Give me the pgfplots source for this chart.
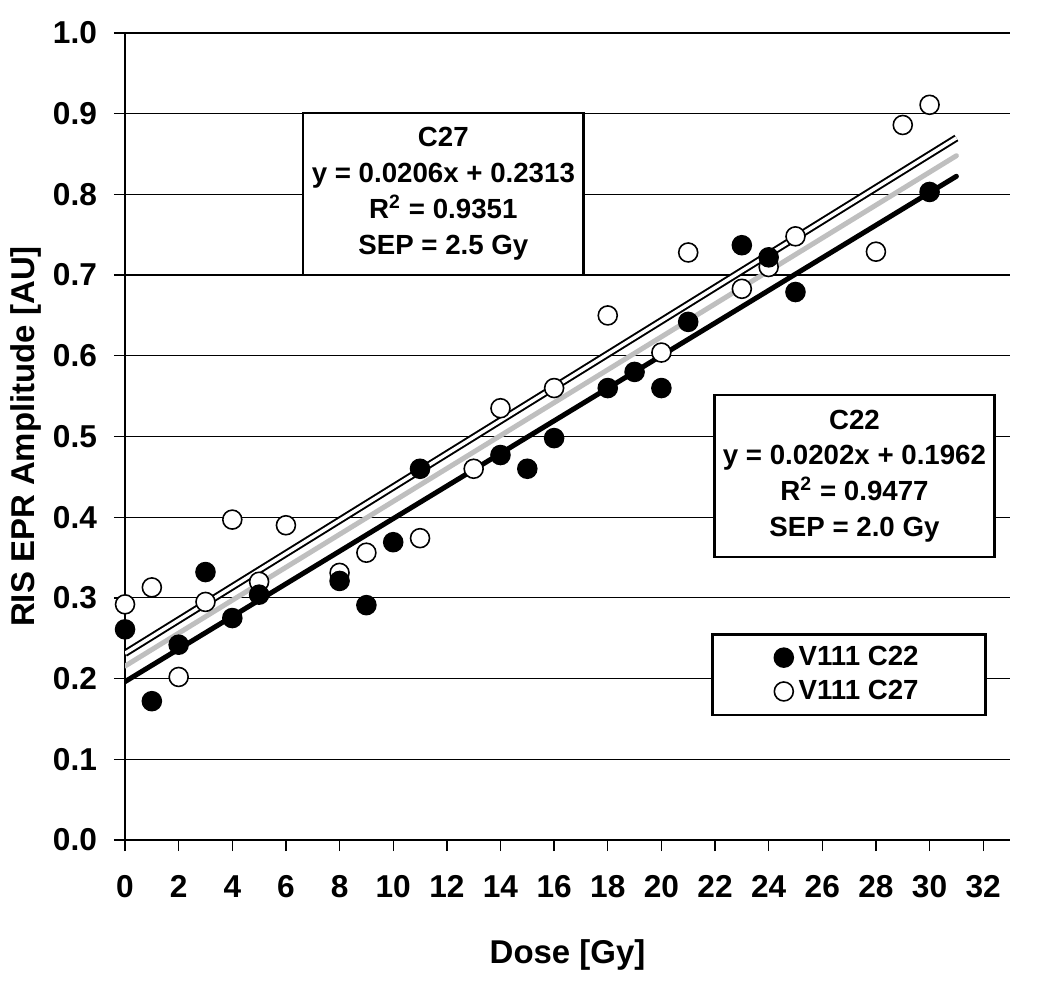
\documentclass[border=0pt]{standalone}
\usepackage{fontspec}
\setmainfont{Liberation Sans}
\usepackage{pgfplots}
\pgfplotsset{compat=1.18}

\begin{document}
\begin{tikzpicture}
\begin{axis}[
  name=ax,
  scale only axis,
  width=11.8cm, height=10.76cm,
  xmin=0, xmax=33, ymin=0, ymax=1,
  axis x line*=bottom, axis y line*=left,
  axis line style={line width=0.5pt, -},
  xtick={0,2,4,6,8,10,12,14,16,18,20,22,24,26,28,30,32},
  ytick={0,0.1,0.2,0.3,0.4,0.5,0.6,0.7,0.8,0.9,1.0},
  yticklabel style={xshift=-0.1cm, /pgf/number format/fixed, /pgf/number format/fixed zerofill, /pgf/number format/precision=1},
  /pgf/number format/assume math mode=true,
  ticklabel style={font=\fontsize{12}{14}\selectfont\bfseries},
  xticklabel style={yshift=-0.2cm},
  xtick align=outside, ytick align=outside,
  major tick length=0.15cm,
  every tick/.style={black, line width=0.5pt},
  ymajorgrids, grid style={black, line width=0.45pt},
  xlabel={Dose [Gy]},
  ylabel={RIS EPR Amplitude [AU]},
  label style={font=\fontsize{12.5}{15}\selectfont\bfseries},
  xlabel style={at={(axis description cs:0.5,-0.1425)}, anchor=center},
  ylabel style={at={(axis description cs:-0.112,0.5)}, anchor=center},
  reverse legend,
  legend cell align=left,
  legend image code/.code={\draw[mark repeat=2,mark phase=2,#1] plot coordinates {(0cm,0cm) (0.14cm,0cm) (0.28cm,0cm)};},
  legend style={at={(axis cs:27.0,0.205)}, anchor=center, draw=black, line width=1.1pt,
    fill=white, font=\fontsize{10.5}{13}\selectfont\bfseries,
    inner xsep=0.82cm, inner ysep=2.5pt, row sep=0pt},
]
% V111 C27 (open)
\addplot[only marks, mark=*, mark size=3.6pt, mark options={fill=white, draw=black, line width=0.6pt}] coordinates {
  (0,0.292) (1,0.313) (2,0.202) (3,0.295) (4,0.397) (5,0.320) (6,0.390)
  (8,0.331) (9,0.356) (11,0.374) (13,0.460) (14,0.535) (16,0.560)
  (18,0.650) (20,0.604) (21,0.728) (23,0.683) (24,0.710) (25,0.748)
  (28,0.729) (29,0.886) (30,0.911)
};
\addlegendentry{V111 C27}
% V111 C22 (filled)
\addplot[only marks, mark=*, mark size=3.6pt, mark options={fill=black, draw=black, line width=0.6pt}] coordinates {
  (0,0.261) (1,0.172) (2,0.242) (3,0.332) (4,0.275) (5,0.304)
  (8,0.321) (9,0.291) (10,0.369) (11,0.460) (14,0.477) (15,0.460)
  (16,0.498) (18,0.560) (19,0.580) (20,0.560) (21,0.642) (23,0.737)
  (24,0.722) (25,0.679) (30,0.803)
};
\addlegendentry{V111 C22}
% fits
\addplot[forget plot, black, line width=1.9pt, line cap=round] coordinates {(0,0.1962) (31,0.8224)};
\addplot[forget plot, black!25, line width=1.9pt, line cap=round] coordinates {(0,0.2155) (31,0.8479)};
\addplot[forget plot, draw=black, line width=0.75pt, double=white, double distance=1.3pt] coordinates {(0,0.2313) (31,0.8699)};

\node[draw=black, line width=1.1pt, fill=white, minimum width=3.68cm, minimum height=2.16cm,
  align=center, font=\fontsize{10.5}{13.6}\selectfont\bfseries] at (axis cs:11.87,0.8005)
  {C27\\y = 0.0206x + 0.2313\\R\textsuperscript{2} = 0.9351\\SEP = 2.5 Gy};
\node[draw=black, line width=1.1pt, fill=white, minimum width=3.7cm, minimum height=2.16cm,
  align=center, font=\fontsize{10.5}{13.6}\selectfont\bfseries] at (axis cs:27.2,0.451)
  {C22\\y = 0.0202x + 0.1962\\R\textsuperscript{2} = 0.9477\\SEP = 2.0 Gy};
\end{axis}
\path ([xshift=-1.667cm, yshift=-1.92cm]ax.south west) rectangle ([xshift=0.533cm, yshift=0.44cm]ax.north east);
\end{tikzpicture}
\end{document}
